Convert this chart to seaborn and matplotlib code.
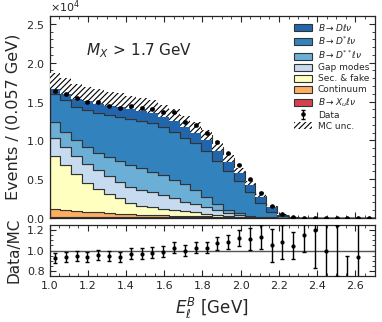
import numpy as np
import pandas as pd
import matplotlib
matplotlib.use("Agg")
import matplotlib.pyplot as plt
from matplotlib.patches import Patch
from matplotlib.ticker import MultipleLocator
import seaborn as sns

# 30 bins in E_l^B from 1.0 to 2.7 GeV
edges = np.linspace(1.0, 2.7, 31)
centers = 0.5 * (edges[:-1] + edges[1:])

# MC components (events per bin)
b_dlnu = [1690, 1800, 1940, 2040, 2050, 2120, 2180, 2150, 2150, 2100, 2100, 2100, 2150, 2050, 2050,
          1750, 1600, 1300, 1200, 980, 680, 190, 65, 16, 6, 1, 0, 1, 0, 0]
b_dstar = [3600, 4080, 4300, 4730, 5160, 5340, 5630, 5920, 6100, 6390, 6200, 6230, 5900, 5950, 5850,
           5640, 5070, 4200, 3020, 1760, 710, 190, 25, 5, 2, 1, 0, 0, 0, 0]
b_dss = [2030, 2020, 2060, 2230, 2230, 2450, 2710, 2760, 2790, 2600, 2500, 2300, 2250, 1900, 1350,
         760, 430, 250, 100, 20, 8, 3, 1, 1, 0, 0, 0, 0, 0, 0]
gap = [2280, 2280, 2360, 2490, 2490, 2400, 2100, 2150, 2020, 1900, 1800, 1570, 1220, 1030, 880,
       610, 330, 170, 40, 10, 5, 3, 2, 1, 1, 0, 0, 0, 0, 0]
sec_fake = [6880, 5780, 4710, 3650, 2980, 2420, 1990, 1410, 1170, 1030, 870, 730, 610, 480, 305,
            200, 105, 35, 15, 10, 5, 5, 4, 2, 1, 1, 1, 0, 0, 0]
continuum = [970, 870, 745, 645, 550, 460, 385, 320, 260, 215, 180, 150, 125, 100, 80,
             60, 45, 35, 30, 20, 15, 10, 8, 5, 4, 3, 2, 2, 1, 1]
b_xu = [180, 180, 175, 175, 170, 170, 165, 160, 160, 155, 150, 150, 145, 140, 135,
        130, 120, 110, 95, 80, 60, 40, 20, 10, 6, 4, 3, 2, 2, 1]

mc_unc = [1050, 1000, 960, 940, 920, 900, 890, 870, 860, 840, 810, 780, 730, 690, 630,
          540, 460, 370, 280, 190, 100, 35, 12, 5, 3, 2, 1, 1, 1, 0]

data = [16400, 15940, 15430, 14950, 14900, 14480, 14200, 14380, 14210, 14100, 13620, 13590, 12360, 11960, 10940,
        9790, 8340, 6850, 5000, 3260, 1560, 478, 131, 46, 24, 10, 7.5, 3, 2.8, 0]
data_err = [128, 126, 124, 122, 122, 120, 119, 120, 119, 119, 117, 117, 111, 109, 105,
            99, 91, 83, 71, 57, 39, 22, 11, 7, 5, 3, 3, 2, 2, 0]
ratio_err = [0.05, 0.05, 0.05, 0.05, 0.05, 0.05, 0.05, 0.055, 0.055, 0.055, 0.055, 0.055, 0.055, 0.055, 0.055,
             0.06, 0.067, 0.08, 0.11, 0.117, 0.16, 0.165, 0.13, 0.16, 0.37, 0.5, 0.5, 0.35, 0.5, 0]

labels = [r"$B\to D\ell\nu$", r"$B\to D^{*}\ell\nu$", r"$B\to D^{**}\ell\nu$", "Gap modes",
          "Sec. & fake", "Continuum", r"$B\to X_u\ell\nu$"]
colors = ["#2166ac", "#3182bd", "#6baed6", "#c6dbef", "#ffffbf", "#fdae61", "#d6404e"]
series = [b_dlnu, b_dstar, b_dss, gap, sec_fake, continuum, b_xu]

rows = []
for lab, vals in zip(labels, series):
    for x, w in zip(centers, vals):
        rows.append({"E": x, "w": w, "comp": lab})
df = pd.DataFrame(rows)

mc_total = np.sum(np.array(series, dtype=float), axis=0)
data = np.array(data, dtype=float)
ratio = data / mc_total

sns.set_style("ticks")
plt.rcParams["font.family"] = ["DejaVu Sans"]
plt.rcParams["hatch.linewidth"] = 0.8

fig = plt.figure(figsize=(3.82, 3.22), dpi=100)
ax = fig.add_axes([0.1296, 0.323, 0.851, 0.627])
ax2 = fig.add_axes([0.1296, 0.143, 0.851, 0.158], sharex=ax)

sns.histplot(data=df, x="E", weights="w", hue="comp", hue_order=labels,
             palette=dict(zip(labels, colors)), multiple="stack", element="step",
             bins=30, binrange=(1.0, 2.7), alpha=1, edgecolor="#333333", linewidth=0.8,
             legend=False, ax=ax)

# MC uncertainty band (white background with black hatching)
lo = mc_total - np.array(mc_unc)
hi = mc_total + np.array(mc_unc)
ax.fill_between(edges, np.append(lo, lo[-1]), np.append(hi, hi[-1]), step="post",
                facecolor="white", edgecolor="k", hatch="//////", linewidth=0, zorder=3)

eb = ax.errorbar(centers, data, yerr=data_err, fmt="o", color="k", ms=2.3,
                 capsize=1.2, elinewidth=0.8, zorder=4)

ax.text(0.112, 0.827, r"$M_X\,>\,1.7$ GeV", transform=ax.transAxes,
        fontsize=11, ha="left", va="center")

ax.set_xlim(1.0, 2.7)
ax.set_ylim(0, 2.6e4)
ax.set_xlabel("")
ax.set_ylabel("Events / (0.057 GeV)", fontsize=11.5)
ax.ticklabel_format(axis="y", style="sci", scilimits=(0, 0), useMathText=True)
ax.yaxis.get_offset_text().set_fontsize(8)
ax.yaxis.set_major_locator(MultipleLocator(5000))
ax.yaxis.set_minor_locator(MultipleLocator(1000))
ax.tick_params(axis="x", labelbottom=False)

handles = [Patch(facecolor=c, edgecolor="#333333", linewidth=0.8) for c in colors]
handles += [eb, Patch(facecolor="white", edgecolor="k", hatch="//////", linewidth=0)]
ax.legend(handles, labels + ["Data", "MC unc."], loc="upper right", fontsize=6.5,
          frameon=False, borderaxespad=0.2, handleheight=0.8, handlelength=2.0,
          handletextpad=0.6, labelspacing=0.22)

ax2.errorbar(centers, ratio, yerr=ratio_err, fmt="o", color="k", ms=2,
             capsize=1.5, elinewidth=1, zorder=3)
ax2.axhline(1.0, color="#555555", lw=1, zorder=1)
ax2.set_ylim(0.75, 1.25)
ax2.yaxis.set_major_locator(MultipleLocator(0.2))
ax2.yaxis.set_minor_locator(MultipleLocator(0.05))
ax2.set_ylabel("Data/MC", fontsize=11)
ax2.set_xlabel(r"$E_\ell^B$ [GeV]", fontsize=12)

for a in (ax, ax2):
    a.xaxis.set_major_locator(MultipleLocator(0.2))
    a.xaxis.set_minor_locator(MultipleLocator(0.05))
    a.tick_params(which="both", direction="in", top=True, right=True, labelsize=8)
    a.tick_params(which="major", length=4, width=0.8)
    a.tick_params(which="minor", length=2, width=0.6)
    for s in a.spines.values():
        s.set_linewidth(0.9)

fig.align_ylabels([ax, ax2])
fig.savefig("out.png", dpi=100)
